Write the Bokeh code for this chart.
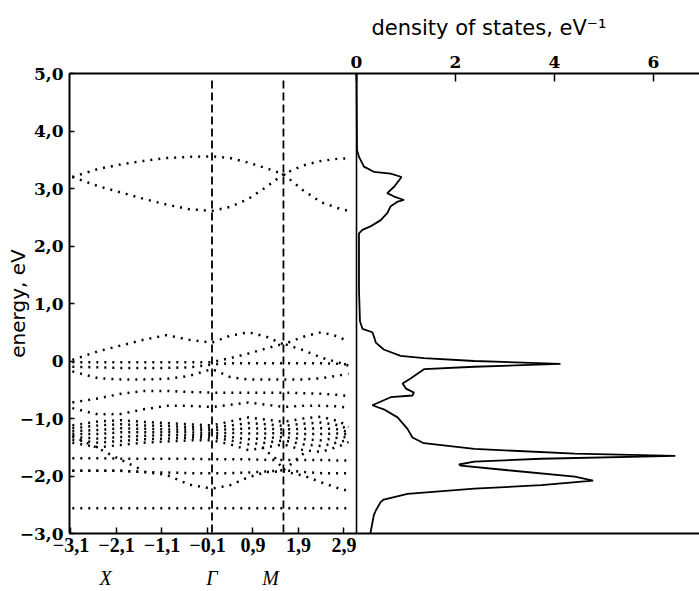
from bokeh.plotting import figure
from bokeh.models import (Range1d, LinearAxis, FixedTicker, Title)
from bokeh.embed import file_html
from bokeh.resources import INLINE

# ---------------- data ----------------
# density of states (energy in eV, DOS in eV^-1)
dos_energy = [-3.0, -2.68, -2.60, -2.45, -2.41, -2.31, -2.22, -2.16, -2.08, -2.01,
              -1.90, -1.82, -1.80, -1.75, -1.70, -1.65, -1.61, -1.53, -1.43, -1.33,
              -1.18, -0.98, -0.84, -0.77, -0.63, -0.60, -0.55, -0.48, -0.39, -0.30,
              -0.14, -0.10, -0.05, 0.00, 0.05, 0.09, 0.20, 0.32, 0.43, 0.50,
              0.56, 0.69, 1.24, 2.22, 2.28, 2.34, 2.45, 2.57, 2.69, 2.77,
              2.80, 2.86, 2.92, 3.03, 3.20, 3.26, 3.29, 3.38, 3.55, 3.67, 5.0]
dos_value = [0.28, 0.35, 0.39, 0.49, 0.55, 1.03, 2.38, 3.73, 4.78, 4.41,
             3.06, 2.11, 2.07, 2.38, 3.73, 6.44, 4.41, 2.38, 1.36, 1.13,
             1.03, 0.83, 0.55, 0.32, 0.69, 1.13, 1.16, 1.00, 0.93, 1.10,
             1.37, 2.38, 4.12, 2.38, 1.36, 0.89, 0.55, 0.39, 0.35, 0.32,
             0.12, 0.07, 0.05, 0.05, 0.12, 0.28, 0.49, 0.62, 0.69, 0.83,
             0.96, 0.76, 0.62, 0.76, 0.91, 0.69, 0.35, 0.15, 0.05, 0.01, 0.0]

# band structure: wave-vector knots along X - Gamma - M - ...
k_knots = [-3.07, -2.5, -2.0, -1.5, -1.0, -0.5, 0.0, 0.4, 0.8, 1.2, 1.57, 2.0, 2.4, 2.8, 3.0]
band_up_a = [3.20, 3.34, 3.42, 3.48, 3.53, 3.55, 3.56, 3.53, 3.45, 3.35, 3.25, 2.97, 2.76, 2.65, 2.61]
band_up_b = [3.20, 3.04, 2.93, 2.82, 2.72, 2.64, 2.61, 2.68, 2.82, 3.03, 3.25, 3.40, 3.48, 3.52, 3.52]
band_v1 = [0.02, 0.17, 0.27, 0.37, 0.45, 0.37, 0.32, 0.44, 0.50, 0.42, 0.29, 0.42, 0.50, 0.42, 0.32]
band_v2 = [-0.02, -0.02, -0.02, -0.02, -0.02, -0.02, -0.02, 0.05, 0.13, 0.22, 0.30, 0.19, 0.06, -0.03, -0.08]
band_v3 = [-0.10, -0.11, -0.12, -0.12, -0.12, -0.11, -0.06, -0.04, -0.04, -0.04, -0.04, -0.04, -0.04, -0.05, -0.06]
band_v4 = [-0.18, -0.30, -0.32, -0.32, -0.31, -0.26, -0.14, -0.28, -0.32, -0.32, -0.32, -0.32, -0.30, -0.25, -0.22]
band_v5 = [-0.72, -0.65, -0.57, -0.52, -0.52, -0.54, -0.55, -0.55, -0.55, -0.55, -0.55, -0.56, -0.57, -0.59, -0.61]
band_v6 = [-0.82, -0.93, -0.92, -0.84, -0.78, -0.78, -0.80, -0.76, -0.72, -0.76, -0.80, -0.78, -0.78, -0.79, -0.82]
band_c1 = [-1.12, -1.05, -1.03, -1.06, -1.08, -1.10, -1.12, -1.05, -0.98, -1.02, -1.06, -1.00, -0.97, -1.05, -1.15]
band_c2 = [-1.17, -1.12, -1.10, -1.12, -1.13, -1.15, -1.16, -1.12, -1.08, -1.10, -1.13, -1.09, -1.07, -1.12, -1.19]
band_c3 = [-1.22, -1.20, -1.17, -1.18, -1.19, -1.19, -1.20, -1.19, -1.17, -1.18, -1.19, -1.18, -1.17, -1.19, -1.24]
band_c4 = [-1.27, -1.27, -1.24, -1.24, -1.24, -1.24, -1.25, -1.25, -1.26, -1.26, -1.25, -1.27, -1.27, -1.26, -1.28]
band_c5 = [-1.32, -1.35, -1.32, -1.30, -1.29, -1.29, -1.29, -1.32, -1.36, -1.34, -1.32, -1.36, -1.38, -1.33, -1.32]
band_c6 = [-1.37, -1.42, -1.39, -1.36, -1.35, -1.33, -1.33, -1.38, -1.45, -1.42, -1.38, -1.45, -1.48, -1.41, -1.37]
band_c7 = [-1.42, -1.50, -1.46, -1.42, -1.40, -1.38, -1.38, -1.45, -1.55, -1.50, -1.45, -1.55, -1.58, -1.48, -1.41]
band_l1 = [-1.69, -1.69, -1.70, -1.70, -1.70, -1.70, -1.71, -1.71, -1.71, -1.72, -1.72, -1.72, -1.72, -1.73, -1.73]
band_l2a = [-1.91, -1.91, -1.91, -1.93, -1.98, -2.15, -2.22, -2.16, -2.02, -1.93, -1.92, -1.99, -2.11, -2.22, -2.26]
band_l2b = [-1.91, -1.91, -1.91, -1.93, -1.94, -1.95, -1.95, -1.95, -1.94, -1.92, -1.90, -1.93, -1.95, -1.95, -1.95]
band_l3 = [-2.56, -2.56, -2.56, -2.56, -2.56, -2.56, -2.56, -2.56, -2.56, -2.56, -2.56, -2.56, -2.56, -2.56, -2.56]
# short crossing branches
cross_a_k = [-3.07, -2.5, -2.0, -1.5]
cross_a_e = [-1.30, -1.52, -1.72, -1.91]
cross_b_k = [1.1, 1.4, 1.57, 1.8, 2.1]
cross_b_e = [-1.50, -1.70, -1.90, -1.75, -1.55]

# symmetry points / axes
sym_k = [0.0, 1.57]                 # Gamma and M dashed lines
sym_label_k = [-2.34, 0.0, 1.29]
sym_labels = ["X", "Γ", "M"]
k_ticks = [-3.1, -2.1, -1.1, -0.1, 0.9, 1.9, 2.9]
k_tick_labels = ["−3,1", "−2,1", "−1,1", "−0,1", "0,9", "1,9", "2,9"]
e_ticks = [-3, -2, -1, 0, 1, 2, 3, 4, 5]
e_tick_labels = ["−3,0", "−2,0", "−1,0", "0", "1,0", "2,0", "3,0", "4,0", "5,0"]
dos_ticks = [0, 2, 4, 6]
dos_title = "density of states, eV⁻¹"

# ---------------- figure ----------------
p = figure(width=699, height=591, output_backend="svg", toolbar_location=None,
           x_range=Range1d(-3.132, 10.714), y_range=Range1d(-3.0, 5.0),
           x_axis_type=None, y_axis_type=None)
p.extra_x_ranges = {"dos": Range1d(-5.798, 6.929)}
p.min_border_left = 69
p.min_border_right = 0
p.min_border_top = 73
p.min_border_bottom = 56
p.outline_line_color = None
p.background_fill_color = "white"
p.border_fill_color = "white"

serif = "DejaVu Serif"

# left energy axis
ya = LinearAxis(ticker=FixedTicker(ticks=e_ticks),
                major_label_overrides={t: l for t, l in zip(e_ticks, e_tick_labels)})
ya.axis_label = "energy, eV"
ya.axis_label_text_font = "DejaVu Sans"
ya.axis_label_text_font_size = "20px"
ya.axis_label_text_font_style = "normal"
ya.axis_label_text_color = "black"
ya.axis_label_standoff = -13
ya.major_label_text_font = serif
ya.major_label_text_font_style = "bold"
ya.major_label_text_font_size = "17px"
ya.major_label_text_color = "black"
ya.major_label_standoff = 6
ya.major_tick_in = 5
ya.major_tick_out = 0
ya.minor_tick_line_color = None
ya.axis_line_width = 2
ya.major_tick_line_width = 1.5
p.add_layout(ya, "left")

# bottom wave-vector axis
xa = LinearAxis(ticker=FixedTicker(ticks=k_ticks),
                major_label_overrides={t: l for t, l in zip(k_ticks, k_tick_labels)})
xa.major_label_text_font = "Liberation Serif"
xa.major_label_text_font_style = "bold"
xa.major_label_text_font_size = "20px"
xa.major_label_text_color = "black"
xa.major_label_standoff = 4
xa.major_tick_in = 6
xa.major_tick_out = 0
xa.minor_tick_line_color = None
xa.axis_line_width = 2
xa.major_tick_line_width = 1.5
p.add_layout(xa, "below")

# symmetry-point labels row
sa = LinearAxis(ticker=FixedTicker(ticks=sym_label_k),
                major_label_overrides={t: l for t, l in zip(sym_label_k, sym_labels)})
sa.axis_line_color = None
sa.major_tick_line_color = None
sa.minor_tick_line_color = None
sa.major_label_text_font = "Liberation Serif"
sa.major_label_text_font_style = "italic"
sa.major_label_text_font_size = "20px"
sa.major_label_text_color = "black"
sa.major_label_standoff = 6
p.add_layout(sa, "below")

# top DOS axis
ta = LinearAxis(x_range_name="dos", ticker=FixedTicker(ticks=dos_ticks))
ta.major_label_text_font = serif
ta.major_label_text_font_style = "bold"
ta.major_label_text_font_size = "17px"
ta.major_label_text_color = "black"
ta.major_label_standoff = 6
ta.major_tick_in = 8
ta.major_tick_out = 0
ta.minor_tick_line_color = None
ta.axis_line_width = 2
ta.major_tick_line_width = 1.5
p.add_layout(ta, "above")

p.title = Title(text=dos_title, align="left", offset=302,
                text_font="DejaVu Sans", text_font_size="21px",
                text_font_style="normal", text_color="black", standoff=26)

# bands (dotted)
band_list = [band_up_a, band_up_b, band_v1, band_v2, band_v3, band_v4, band_v5, band_v6,
             band_c1, band_c2, band_c3, band_c4, band_c5, band_c6, band_c7,
             band_l1, band_l2a, band_l2b, band_l3]
xs = [k_knots for _ in band_list] + [cross_a_k, cross_b_k]
ys = list(band_list) + [cross_a_e, cross_b_e]
p.multi_line(xs=xs, ys=ys, line_color="black", line_width=2.5, line_dash="2 6")

# symmetry dashed lines
p.segment(x0=sym_k, y0=[4.88] * len(sym_k), x1=sym_k, y1=[-3.0] * len(sym_k),
          line_color="black", line_width=1.8, line_dash="8 4")

# DOS zero line and curve
p.segment(x0=[0], y0=[-3.0], x1=[0], y1=[5.0], x_range_name="dos",
          line_color="black", line_width=1.6)
p.line(dos_value, dos_energy, x_range_name="dos", line_color="black", line_width=1.8)

open("out.html", "w").write(file_html(p, INLINE))
